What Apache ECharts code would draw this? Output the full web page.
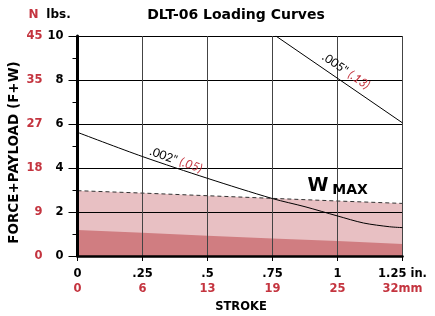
<!DOCTYPE html>
<html>
<head>
<meta charset="utf-8">
<script src="https://cdn.jsdelivr.net/npm/echarts@6/dist/echarts.min.js"></script>
<style>html,body{margin:0;padding:0;background:#fff}#c{width:435px;height:316px}</style>
</head>
<body>
<div id="c"></div>
<script>
// Data
const strokeTicksIn = ['0', '.25', '.5', '.75', '1', '1.25 in.'];
const strokeTicksMm = ['0', '6', '13', '19', '25', '32mm'];
const forceTicksLbs = ['0', '2', '4', '6', '8', '10'];
const forceTicksN = ['0', '9', '18', '27', '35', '45'];

const wMaxX = [0, 0.25, 0.5, 0.75, 1.0, 1.25];
const wMaxY = [2.97, 2.86, 2.74, 2.62, 2.50, 2.39];
const lowAreaX = [0, 0.25, 0.5, 0.75, 1.0, 1.25];
const lowAreaY = [1.18, 1.06, 0.92, 0.80, 0.68, 0.55];
const curve002X = [0, 0.25, 0.5, 0.75, 0.875, 1.0, 1.1, 1.2, 1.25];
const curve002Y = [5.62, 4.52, 3.53, 2.61, 2.24, 1.82, 1.50, 1.33, 1.29];
const curve005X = [0.763, 1.25];
const curve005Y = [10, 6.05];

const RED = '#c4343f';
const FONT = 'DejaVu Sans';
const zip = (xs, ys) => xs.map((x, i) => [x, ys[i]]);

const chart = echarts.init(document.getElementById('c'), null, {renderer: 'canvas'});
const tickIdx = v => Math.round(v / 0.25);
const yIdx = v => Math.round(v / 2);

chart.setOption({
  animation: false,
  grid: {left: 77.5, right: 32.5, top: 36, bottom: 60},
  xAxis: [{
    type: 'value', min: 0, max: 1.25, interval: 0.25, z: 3,
    axisLine: {show: true, onZero: false, lineStyle: {color: '#000', width: 2.5}},
    axisTick: {show: true, length: 5, lineStyle: {color: '#000', width: 1}},
    splitLine: {show: true, lineStyle: {color: '#444', width: 1}},
    axisLabel: {margin: 12, color: '#000', fontFamily: FONT, fontWeight: 'bold', fontSize: 11.5,
      formatter: v => strokeTicksIn[tickIdx(v)]}
  }, {
    type: 'value', min: 0, max: 1.25, interval: 0.25, position: 'bottom',
    axisLine: {show: false}, axisTick: {show: false}, splitLine: {show: false},
    axisLabel: {margin: 27, color: RED, fontFamily: FONT, fontWeight: 'bold', fontSize: 11.5,
      formatter: v => strokeTicksMm[tickIdx(v)]}
  }],
  yAxis: [{
    type: 'value', min: 0, max: 10, interval: 2, z: 3,
    axisLine: {show: true, onZero: false, lineStyle: {color: '#000', width: 3}},
    axisTick: {show: true, length: 9, lineStyle: {color: '#000', width: 1}},
    minorTick: {show: true, splitNumber: 2, length: 5, lineStyle: {color: '#000', width: 1}},
    splitLine: {show: true, lineStyle: {color: '#000', width: 1}},
    axisLabel: {margin: 14, color: '#000', fontFamily: FONT, fontWeight: 'bold', fontSize: 11.5,
      formatter: v => forceTicksLbs[yIdx(v)]}
  }, {
    type: 'value', min: 0, max: 10, interval: 2, position: 'left',
    axisLine: {show: false}, axisTick: {show: false}, splitLine: {show: false},
    axisLabel: {margin: 35, color: RED, fontFamily: FONT, fontWeight: 'bold', fontSize: 11.5,
      formatter: v => forceTicksN[yIdx(v)]}
  }],
  series: [{
    type: 'line', data: zip(wMaxX, wMaxY), symbol: 'none', z: 1,
    lineStyle: {color: '#333', width: 1, type: [4, 3]},
    areaStyle: {color: '#e8c0c3', opacity: 1}
  }, {
    type: 'line', data: zip(lowAreaX, lowAreaY), symbol: 'none', z: 1,
    lineStyle: {width: 0},
    areaStyle: {color: '#d07d81', opacity: 1}
  }, {
    type: 'line', data: zip(curve002X, curve002Y), symbol: 'none', smooth: 0.3, z: 4,
    lineStyle: {color: '#000', width: 1}
  }, {
    type: 'line', data: zip(curve005X, curve005Y), symbol: 'none', z: 4,
    lineStyle: {color: '#000', width: 1}
  }],
  graphic: [
    {type: 'text', x: 236, y: 15, style: {text: 'DLT-06 Loading Curves', font: 'bold 14px "DejaVu Sans"', fill: '#000', align: 'center', verticalAlign: 'middle'}},
    {type: 'text', x: 33.5, y: 15, style: {text: 'N', font: 'bold 12px "DejaVu Sans"', fill: RED, align: 'center', verticalAlign: 'middle'}},
    {type: 'text', x: 58.5, y: 15, style: {text: 'lbs.', font: 'bold 12px "DejaVu Sans"', fill: '#000', align: 'center', verticalAlign: 'middle'}},
    {type: 'text', x: 14, y: 152.5, rotation: Math.PI / 2,
      style: {text: 'FORCE+PAYLOAD (F+W)', font: 'bold 13.5px "DejaVu Sans"', fill: '#000', align: 'center', verticalAlign: 'middle'}},
    {type: 'text', x: 241, y: 307, style: {text: 'STROKE', font: 'bold 11.5px "DejaVu Sans"', fill: '#000', align: 'center', verticalAlign: 'middle'}},
    {type: 'text', x: 176, y: 160, rotation: -0.34, z: 10,
      style: {text: '{a|.002"} {b|(.05)}', align: 'center', verticalAlign: 'middle',
        rich: {a: {font: '12px Lato', fill: '#000'}, b: {font: 'italic 12px Lato', fill: RED}}}},
    {type: 'text', x: 346, y: 71, rotation: -0.60, z: 10,
      style: {text: '{a|.005"} {b|(.13)}', align: 'center', verticalAlign: 'middle',
        rich: {a: {font: '12px Lato', fill: '#000'}, b: {font: 'italic 12px Lato', fill: RED}}}},
    {type: 'text', x: 318, y: 186, z: 10, style: {text: 'W', font: 'bold 19px "DejaVu Sans"', fill: '#000', align: 'center', verticalAlign: 'middle'}},
    {type: 'text', x: 350, y: 190, z: 10, style: {text: 'MAX', font: 'bold 14px "DejaVu Sans"', fill: '#000', align: 'center', verticalAlign: 'middle'}}
  ]
});
</script>
</body>
</html>
